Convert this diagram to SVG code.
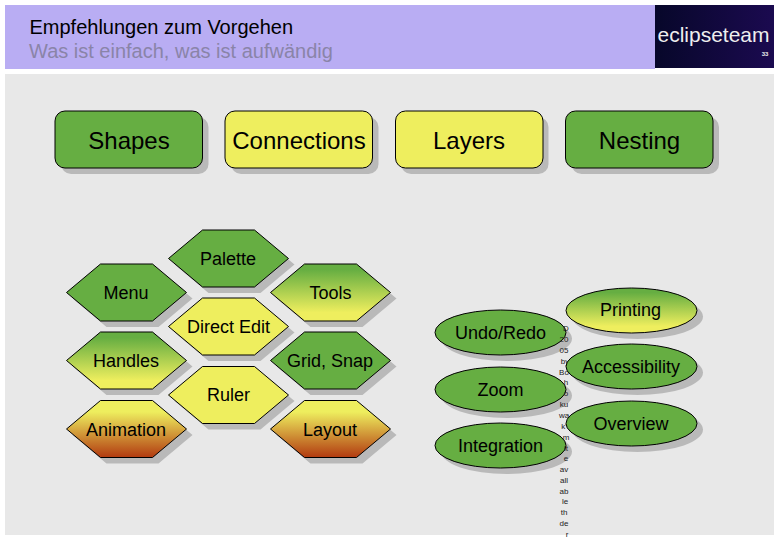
<svg xmlns="http://www.w3.org/2000/svg" width="780" height="540" viewBox="0 0 780 540">
<style>
text{font-family:"Liberation Sans",Arial,sans-serif;fill:#000}
.ctr{text-anchor:middle}
.r{font-size:24px;text-anchor:middle}
.l{font-size:18px;text-anchor:middle}
.t{font-size:8px;text-anchor:middle;fill:#222}
.sh{fill:#b9b9b9}
.o{stroke:#000;stroke-width:1}
.green{fill:#66ae42}
.yellow{fill:#eeee5e}
.gy{fill:url(#gy)}
.yr{fill:url(#yr)}
</style>
<defs>
<linearGradient id="gy" x1="0" y1="0" x2="0" y2="1"><stop offset="0.1" stop-color="#66ae42"/><stop offset="0.85" stop-color="#eeee5e"/></linearGradient>
<linearGradient id="yr" x1="0" y1="0" x2="0" y2="1"><stop offset="0.2" stop-color="#eeee5e"/><stop offset="1" stop-color="#b23a10"/></linearGradient>
<linearGradient id="logo" x1="0" y1="0" x2="1" y2="0"><stop offset="0" stop-color="#07072a"/><stop offset="1" stop-color="#1b0a50"/></linearGradient>
<polygon id="hex" points="0,28.5 34,0 86,0 120,28.5 86,57 34,57"/>
<rect id="box" width="147.5" height="57" rx="10" ry="10"/>
<ellipse id="ell" cx="65.5" cy="22.5" rx="65.5" ry="22.5"/>
</defs>
<rect width="780" height="540" fill="#fff"/>
<g id="header">
<rect x="5" y="5" width="650" height="64" fill="#b9adf3"/>
<text x="29.5" y="34" font-size="20" fill="#0a0a30">Empfehlungen zum Vorgehen</text>
<text x="29" y="58" font-size="20" style="fill:#8a84a8">Was ist einfach, was ist aufwändig</text>
</g>
<g id="logo-block">
<rect x="655" y="5" width="119" height="63" fill="url(#logo)"/>
<text x="713.5" y="42" font-size="21" class="ctr" style="fill:#eee">eclipseteam</text>
<text x="765" y="56" font-size="6" font-weight="bold" class="ctr" style="fill:#eee">33</text>
</g>
<rect id="panel" x="5" y="74" width="769" height="461" fill="#e8e8e8"/>

<g id="node-shapes"><use href="#box" x="61" y="117" class="sh"/><use href="#box" x="55" y="111" class="o green"/><text x="129" y="149" class="r">Shapes</text></g>
<g id="node-connections"><use href="#box" x="231" y="117" class="sh"/><use href="#box" x="225" y="111" class="o yellow"/><text x="299" y="149" class="r">Connections</text></g>
<g id="node-layers"><use href="#box" x="401" y="117" class="sh"/><use href="#box" x="395.500" y="111" class="o yellow"/><text x="469" y="149" class="r">Layers</text></g>
<g id="node-nesting"><use href="#box" x="571.500" y="117" class="sh"/><use href="#box" x="565.500" y="111" class="o green"/><text x="639.500" y="149" class="r">Nesting</text></g>

<g id="node-palette"><use href="#hex" x="174.500" y="236" class="sh"/><use href="#hex" x="168.500" y="230" class="o green"/><text x="228" y="264.500" class="l">Palette</text></g>
<g id="node-menu"><use href="#hex" x="72.500" y="270" class="sh"/><use href="#hex" x="66.500" y="264" class="o green"/><text x="126" y="298.500" class="l">Menu</text></g>
<g id="node-tools"><use href="#hex" x="276.500" y="270" class="sh"/><use href="#hex" x="270.500" y="264" class="o gy"/><text x="330.500" y="298.500" class="l">Tools</text></g>
<g id="node-direct-edit"><use href="#hex" x="174.500" y="304" class="sh"/><use href="#hex" x="168.500" y="298" class="o yellow"/><text x="228.500" y="332.500" class="l">Direct Edit</text></g>
<g id="node-handles"><use href="#hex" x="72.500" y="338" class="sh"/><use href="#hex" x="66.500" y="332" class="o gy"/><text x="126" y="366.500" class="l">Handles</text></g>
<g id="node-grid-snap"><use href="#hex" x="276.500" y="338" class="sh"/><use href="#hex" x="270.500" y="332" class="o green"/><text x="330" y="366.500" class="l">Grid, Snap</text></g>
<g id="node-ruler"><use href="#hex" x="174.500" y="372.500" class="sh"/><use href="#hex" x="168.500" y="366.500" class="o yellow"/><text x="228.500" y="400.500" class="l">Ruler</text></g>
<g id="node-animation"><use href="#hex" x="72.500" y="406.500" class="sh"/><use href="#hex" x="66.500" y="400.500" class="o yr"/><text x="126" y="435.500" class="l">Animation</text></g>
<g id="node-layout"><use href="#hex" x="276.500" y="406.500" class="sh"/><use href="#hex" x="270.500" y="400.500" class="o yr"/><text x="330" y="435.500" class="l">Layout</text></g>

<g id="node-undo-redo"><use href="#ell" x="441" y="316" class="sh"/><use href="#ell" x="435" y="310" class="o green"/><text x="500.500" y="338.500" class="l">Undo/Redo</text></g>
<g id="node-zoom"><use href="#ell" x="441" y="373" class="sh"/><use href="#ell" x="435" y="367" class="o green"/><text x="500.500" y="395.500" class="l">Zoom</text></g>
<g id="node-integration"><use href="#ell" x="441" y="429" class="sh"/><use href="#ell" x="435" y="423" class="o green"/><text x="500.500" y="451.500" class="l">Integration</text></g>

<g id="narrow-text">
<text x="566" y="331" class="t">D</text>
<text x="564" y="342" class="t">20</text>
<text x="564" y="353" class="t">05</text>
<text x="565" y="364" class="t">by</text>
<text x="564" y="375" class="t">Bo</text>
<text x="566" y="385" class="t">h</text>
<text x="566" y="396" class="t">o</text>
<text x="564" y="407" class="t">ku</text>
<text x="564" y="418" class="t">wa</text>
<text x="564" y="429" class="t">k'</text>
<text x="566" y="440" class="t">m</text>
<text x="566" y="451" class="t">it</text>
<text x="566" y="461" class="t">e</text>
<text x="564" y="472" class="t">av</text>
<text x="564" y="483" class="t">all</text>
<text x="564" y="494" class="t">ab</text>
<text x="565" y="504" class="t">le</text>
<text x="564" y="515" class="t">th</text>
<text x="564" y="526" class="t">de</text>
<text x="567" y="537" class="t">r</text>
</g>

<g id="node-printing"><use href="#ell" x="572" y="294" class="sh"/><use href="#ell" x="566" y="288" class="o gy"/><text x="630.500" y="316" class="l">Printing</text></g>
<g id="node-accessibility"><use href="#ell" x="572" y="350" class="sh"/><use href="#ell" x="566" y="344" class="o green"/><text x="631" y="373" class="l">Accessibility</text></g>
<g id="node-overview"><use href="#ell" x="572" y="407" class="sh"/><use href="#ell" x="566" y="401" class="o green"/><text x="631" y="430" class="l">Overview</text></g>
</svg>
